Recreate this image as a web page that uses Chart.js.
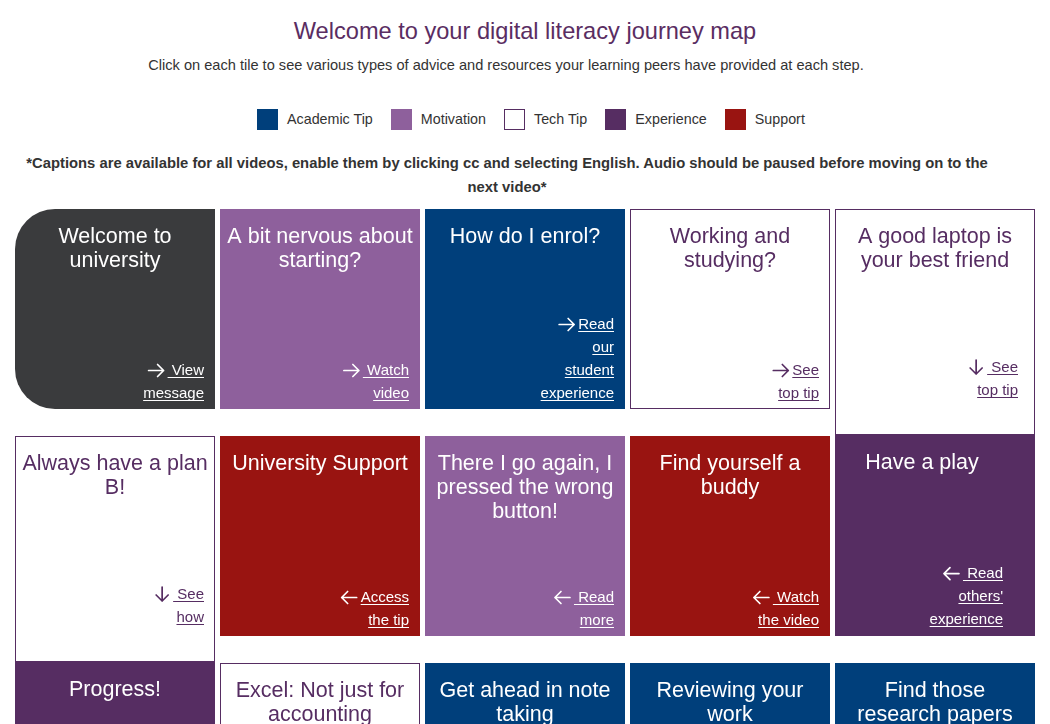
<!DOCTYPE html>
<html>
<head>
<meta charset="utf-8">
<script src="https://cdn.jsdelivr.net/npm/chart.js@4"></script>
<style>
  html, body { margin: 0; padding: 0; background: #fff; overflow: hidden; }
  body { width: 1050px; height: 724px; position: relative; font-family: "Liberation Sans", Arial, sans-serif; color: #333; }
  .abs { position: absolute; left: 0; width: 1050px; text-align: center; }
  #title { top: 19px; font-size: 23.6px; line-height: 24px; color: #5a2d62; }
  #sub { top: 58px; left: -19px; font-size: 14.6px; line-height: 14px; }
  #legend { position: absolute; top: 109px; left: 257px; display: flex; align-items: center; font-size: 14.3px; }
  #legend .sw { width: 19px; height: 19px; border: 1px solid; margin-right: 9px; }
  #legend .lab { margin-right: 18px; line-height: 21px; }
  #note { top: 151px; left: -18px; font-size: 14.8px; line-height: 24px; font-weight: bold; }
  #grid { position: absolute; left: 0; top: 209px; }
</style>
</head>
<body>
<div class="abs" id="title"></div>
<div class="abs" id="sub"></div>
<div id="legend"></div>
<div class="abs" id="note"></div>
<canvas id="grid" width="1050" height="681"></canvas>
<script>
// header texts
const pageTitle = "Welcome to your digital literacy journey map";
const pageSub = "Click on each tile to see various types of advice and resources your learning peers have provided at each step.";
const noteLines = ["*Captions are available for all videos, enable them by clicking cc and selecting English. Audio should be paused before moving on to the", "next video*"];

// tile categories (legend order)
const categories = ["Academic Tip", "Motivation", "Tech Tip", "Experience", "Support"];
const categoryColors = ["#003f7b", "#8e609c", "#ffffff", "#562d62", "#991411"];
const welcomeColor = "#3a3b3d";

// grid columns
const columns = ["1", "2", "3", "4", "5"];

// tiles, in journey order
const tileTitles = [
  "Welcome to\nuniversity", "A bit nervous about\nstarting?", "How do I enrol?", "Working and\nstudying?", "A good laptop is\nyour best friend",
  "Always have a plan\nB!", "University Support", "There I go again, I\npressed the wrong\nbutton!", "Find yourself a\nbuddy", "Have a play",
  "Progress!", "Excel: Not just for\naccounting", "Get ahead in note\ntaking", "Reviewing your\nwork", "Find those\nresearch papers"
];
const tileCategory = [
  "Welcome", "Motivation", "Academic Tip", "Tech Tip", "Tech Tip",
  "Tech Tip", "Support", "Motivation", "Support", "Experience",
  "Experience", "Tech Tip", "Academic Tip", "Academic Tip", "Academic Tip"
];
const tileColumn = ["1", "2", "3", "4", "5", "1", "2", "3", "4", "5", "1", "2", "3", "4", "5"];
// row units: one row = 1
const tileStart = [0, 0, 0, 0, 0, 1, 1, 1, 1, 0.996, 1.996, 2, 2, 2, 2];
const tileEnd = [0.881, 0.881, 0.881, 0.881, 0.996, 1.996, 1.881, 1.881, 1.881, 1.881, 2.881, 2.881, 2.881, 2.881, 2.881];
const linkArrow = ["right", "right", "right", "right", "down", "down", "left", "left", "left", "left", "", "", "", "", ""];
const linkLines = [
  [" View", "message"], [" Watch", "video"], ["Read", "our", "student", "experience"], ["See", "top tip"], [" See", "top tip"],
  [" See", "how"], ["Access", "the tip"], [" Read", "more"], [" Watch", "the video"], [" Read", "others'", "experience"],
  [], [], [], [], []
];

document.getElementById("title").textContent = pageTitle;
document.getElementById("sub").textContent = pageSub;
document.getElementById("note").innerHTML = noteLines.join("<br>");
const legendEl = document.getElementById("legend");
categories.forEach((c, i) => {
  const sw = document.createElement("div");
  sw.className = "sw";
  sw.style.background = categoryColors[i];
  sw.style.borderColor = categoryColors[i] === "#ffffff" ? "#562d62" : categoryColors[i];
  const lab = document.createElement("div");
  lab.className = "lab";
  lab.textContent = c;
  legendEl.appendChild(sw);
  legendEl.appendChild(lab);
});

function tileColor(i) {
  const c = tileCategory[i];
  return c === "Welcome" ? welcomeColor : categoryColors[categories.indexOf(c)];
}
function isWhite(i) { return tileCategory[i] === "Tech Tip"; }

const stdSpan = 0.881;
const FONT = '"Liberation Sans", Arial, sans-serif';

// small arrow in front of a link, xr = right end, by = text baseline
function drawArrow(ctx, dir, xr, by) {
  ctx.save();
  ctx.lineWidth = 1.7;
  ctx.lineCap = "round";
  ctx.lineJoin = "round";
  ctx.beginPath();
  if (dir === "down") {
    const cx = xr - 7;
    ctx.moveTo(cx, by - 12); ctx.lineTo(cx, by + 2);
    ctx.moveTo(cx - 6, by - 4); ctx.lineTo(cx, by + 2); ctx.lineTo(cx + 6, by - 4);
  } else {
    const cy = by - 4.5;
    ctx.moveTo(xr - 15, cy); ctx.lineTo(xr, cy);
    if (dir === "right") {
      ctx.moveTo(xr - 6, cy - 6); ctx.lineTo(xr, cy); ctx.lineTo(xr - 6, cy + 6);
    } else {
      ctx.moveTo(xr - 9, cy - 6); ctx.lineTo(xr - 15, cy); ctx.lineTo(xr - 9, cy + 6);
    }
  }
  ctx.stroke();
  ctx.restore();
}

const tileText = {
  id: "tileText",
  afterDatasetsDraw(chart) {
    const ctx = chart.ctx;
    const yScale = chart.scales.y;
    chart.getDatasetMeta(0).data.forEach((bar, i) => {
      const top = Math.min(bar.y, bar.base);
      const right = bar.x + bar.width / 2;
      const color = isWhite(i) ? "#562d62" : "#ffffff";
      const shift = i === 9 ? 13 : 0;
      const linkPad = i === 9 ? 32 : (i === 4 ? 17 : 11);
      const lift = linkArrow[i] === "down" ? 3 : 0;
      ctx.save();
      ctx.fillStyle = color;
      ctx.strokeStyle = color;
      // title
      ctx.font = "21.5px " + FONT;
      ctx.textAlign = "center";
      ctx.textBaseline = "alphabetic";
      tileTitles[i].split("\n").forEach((line, k) => {
        ctx.fillText(line, bar.x - shift, top + 34 + k * 24);
      });
      // link
      const lines = linkLines[i];
      if (lines.length) {
        const anchor = yScale.getPixelForValue(tileStart[i] + stdSpan);
        const last = anchor - 11 - lift;
        const r = right - linkPad;
        ctx.font = "15px " + FONT;
        ctx.textAlign = "right";
        ctx.lineWidth = 1;
        lines.forEach((line, k) => {
          const by = last - (lines.length - 1 - k) * 23;
          ctx.fillText(line, r, by);
          const w = ctx.measureText(line).width;
          ctx.beginPath();
          ctx.moveTo(r - w, Math.round(by + 2) + 0.5);
          ctx.lineTo(r, Math.round(by + 2) + 0.5);
          ctx.stroke();
          if (k === 0 && linkArrow[i]) drawArrow(ctx, linkArrow[i], r - w - 4, by);
        });
      }
      ctx.restore();
    });
  }
};

new Chart(document.getElementById("grid").getContext("2d"), {
  type: "bar",
  data: {
    labels: columns,
    datasets: [{
      data: tileTitles.map((t, i) => ({ x: tileColumn[i], y: [tileStart[i], tileEnd[i]] })),
      backgroundColor: ctx => tileColor(ctx.dataIndex),
      borderColor: ctx => isWhite(ctx.dataIndex) ? "#562d62" : tileColor(ctx.dataIndex),
      borderWidth: ctx => isWhite(ctx.dataIndex) ? 1 : 0,
      borderSkipped: false,
      borderRadius: ctx => ctx.dataIndex === 0 ? { topLeft: 40, bottomLeft: 40, topRight: 0, bottomRight: 0 } : 0,
      inflateAmount: 0,
      categoryPercentage: 1,
      barPercentage: 200 / 205
    }]
  },
  options: {
    responsive: false,
    animation: false,
    layout: { padding: { left: 12.5, right: 12.5, top: 0, bottom: 0 } },
    scales: {
      x: { type: "category", display: false, offset: true },
      y: { type: "linear", min: 0, max: 3, reverse: true, display: false }
    },
    plugins: { legend: { display: false }, tooltip: { enabled: false } }
  },
  plugins: [tileText]
});
</script>
</body>
</html>
